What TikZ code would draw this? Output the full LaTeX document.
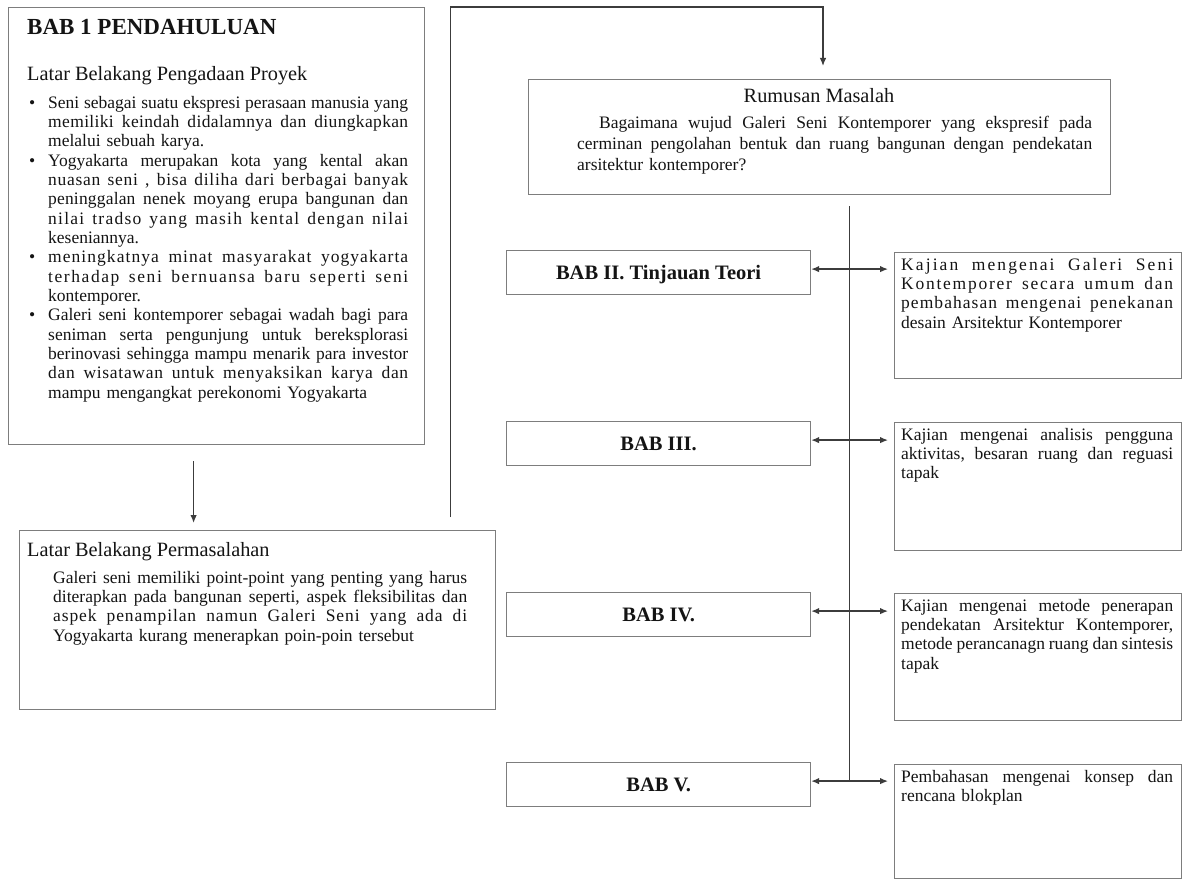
\documentclass[tikz,border=0pt]{standalone}
\usepackage{fontspec}
\setmainfont{Liberation Serif}
\usetikzlibrary{arrows.meta,calc}
\definecolor{boxgray}{RGB}{125,125,125}
\definecolor{linegray}{RGB}{60,60,60}
\definecolor{inkblack}{RGB}{20,20,20}
\newcommand\Jl[2]{\leavevmode\hbox to #1{\frenchspacing
  \spaceskip=\fontdimen2\font plus 1fil minus \fontdimen4\font\relax
  \xspaceskip=\spaceskip #2}}
\newcommand\Ls[3]{\leavevmode{\addfontfeature{LetterSpace=#2}\Jl{#1}{#3}}}
\newcommand\bodyfont{\fontsize{17.5}{19.33}\selectfont}
\newcommand\bi{\makebox[19pt][l]{\textbullet}}
\newcommand\ci{\hspace*{19pt}}
\tikzset{
  box/.style={draw=boxgray, line width=1.2pt, inner sep=0pt, anchor=north west},
  babbox/.style={box, minimum width=304pt, minimum height=44pt, text height=13.5pt, text depth=0pt,
    font=\fontsize{20.5}{24}\selectfont\bfseries, text=inkblack},
  txt/.style={inner sep=0pt, anchor=north west, align=left, font=\bodyfont, text=inkblack},
  head/.style={inner sep=0pt, anchor=base west, font=\fontsize{20.3}{24}\selectfont, text=inkblack},
  conn/.style={draw=linegray, line width=1.3pt},
  tip/.tip={Latex[length=8pt,width=6.5pt]},
}
\begin{document}
\begin{tikzpicture}[x=1pt,y=-1pt]
\useasboundingbox (0,0) rectangle (1188,888);
\fill[white] (0,0) rectangle (1188,888);

% ---------- BAB 1 box ----------
\node[box, minimum width=416pt, minimum height=437pt] (b1) at (8,7) {};
\node[head, font=\fontsize{23}{27}\selectfont\bfseries] (t1) at (27,35) {BAB 1 PENDAHULUAN};
\node[head] (s1) at (27,81) {Latar Belakang Pengadaan Proyek};
\node[txt, text width=382pt] (bl) at (29,94.47) {\noindent\strut
\bi\Jl{360pt}{Seni sebagai suatu ekspresi perasaan manusia yang}\\
\ci\Ls{360pt}{2}{memiliki keindah didalamnya dan diungkapkan}\\
\ci melalui sebuah karya.\\
\bi\Jl{360pt}{Yogyakarta merupakan kota yang kental akan}\\
\ci\Ls{360pt}{4}{nuasan seni , bisa diliha dari berbagai banyak}\\
\ci\Ls{360pt}{1}{peninggalan nenek moyang erupa bangunan dan}\\
\ci\Ls{360pt}{7}{nilai tradso yang masih kental dengan nilai}\\
\ci keseniannya.\\
\bi\Ls{360pt}{6}{meningkatnya minat masyarakat yogyakarta}\\
\ci\Ls{360pt}{9}{terhadap seni bernuansa baru seperti seni}\\
\ci kontemporer.\\
\bi\Jl{360pt}{Galeri seni kontemporer sebagai wadah bagi para}\\
\ci\Jl{360pt}{seniman serta pengunjung untuk bereksplorasi}\\
\ci\Jl{360pt}{berinovasi sehingga mampu menarik para investor}\\
\ci\Ls{360pt}{4}{dan wisatawan untuk menyaksikan karya dan}\\
\ci mampu mengangkat perekonomi Yogyakarta};

% ---------- Latar Belakang Permasalahan ----------
\node[box, minimum width=476pt, minimum height=179pt] (lbp) at (19,530) {};
\node[head] (s2) at (27,556) {Latar Belakang Permasalahan};
\node[txt, text width=416pt] (lbpt) at (53,569.47) {\noindent\strut
\Jl{414pt}{Galeri seni memiliki point-point yang penting yang harus}\\
\Jl{414pt}{diterapkan pada bangunan seperti, aspek fleksibilitas dan}\\
\Ls{414pt}{5}{aspek penampilan namun Galeri Seni yang ada di}\\
Yogyakarta kurang menerapkan poin-poin tersebut};

% ---------- Rumusan Masalah ----------
\node[box, minimum width=582pt, minimum height=115pt] (rum) at (528,79) {};
\node[head, anchor=base] (rh) at (819,103) {Rumusan Masalah};
\node[txt, text width=517pt, font=\fontsize{17.5}{21}\selectfont] (rt) at (577,113.3) {\noindent\strut
\hspace*{22pt}\Jl{493pt}{Bagaimana wujud Galeri Seni Kontemporer yang ekspresif pada}\\
\Jl{515pt}{cerminan pengolahan bentuk dan ruang bangunan dengan pendekatan}\\
arsitektur kontemporer?};

% ---------- BAB boxes ----------
\node[babbox] (bab2) at (506,250) {BAB II. Tinjauan Teori};
\node[babbox] (bab3) at (506,421) {BAB III.};
\node[babbox] (bab4) at (506,592) {BAB IV.};
\node[babbox] (bab5) at (506,762) {BAB V.};

% ---------- right boxes ----------
\node[box, minimum width=287pt, minimum height=126pt] (r2) at (894,252) {};
\node[box, minimum width=287pt, minimum height=128pt] (r3) at (894,422) {};
\node[box, minimum width=287pt, minimum height=127pt] (r4) at (894,593) {};
\node[box, minimum width=287pt, minimum height=114pt] (r5) at (894,764) {};

\node[txt, text width=276pt] (r2t) at (901,256.47) {\noindent\strut
\Ls{272pt}{12}{Kajian mengenai Galeri Seni}\\
\Ls{272pt}{10}{Kontemporer secara umum dan}\\
\Ls{272pt}{6}{pembahasan mengenai penekanan}\\
desain Arsitektur Kontemporer};
\node[txt, text width=276pt] (r3t) at (901,426.47) {\noindent\strut
\Jl{272pt}{Kajian mengenai analisis pengguna}\\
\Jl{272pt}{aktivitas, besaran ruang dan reguasi}\\
tapak};
\node[txt, text width=276pt] (r4t) at (901,597.47) {\noindent\strut
\Jl{272pt}{Kajian mengenai metode penerapan}\\
\Jl{272pt}{pendekatan Arsitektur Kontemporer,}\\
\Jl{272pt}{metode perancanagn ruang dan sintesis}\\
tapak};
\node[txt, text width=276pt] (r5t) at (901,768.47) {\noindent\strut
\Jl{272pt}{Pembahasan mengenai konsep dan}\\
rencana blokplan};

% ---------- connectors ----------
\draw[conn, -tip, shorten <=16pt, shorten >=7pt]
  ([xshift=-23pt]b1.south) -- ([xshift=-23pt]b1.south |- lbp.north);
\coordinate (tr) at (823,7);
\coordinate (lbpup) at ([xshift=-46pt]lbp.north east);
\draw[conn, -tip, shorten <=13pt, shorten >=13pt]
  (lbpup) |- (tr) -- (tr |- rum.north);

\coordinate (sp) at ([xshift=30pt]rum.south);
\foreach \i in {2,3,4,5}{
  \coordinate (s\i) at ([yshift=3.5pt]bab\i.east);
}
\draw[conn, shorten <=11pt] (sp) -- (sp |- s5);
\foreach \i in {2,3,4,5}{
  \draw[conn, tip-tip, shorten >=6pt] (s\i) -- (s\i -| r\i.west);
}
\end{tikzpicture}
\end{document}
